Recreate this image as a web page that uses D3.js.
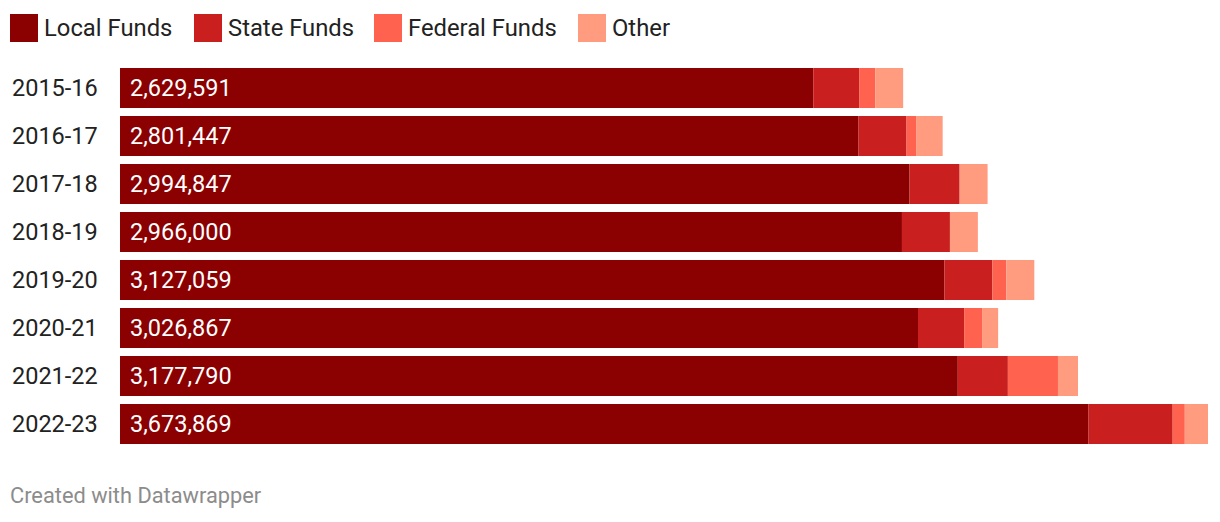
<!DOCTYPE html>
<html><head><meta charset="utf-8">
<script src="https://cdn.jsdelivr.net/npm/d3@7"></script>
<style>
html,body{margin:0;padding:0;background:#fff;}
svg{display:block;font-family:Roboto,sans-serif;}
</style></head>
<body>
<svg id="chart" width="1220" height="522"></svg>
<script>
const years = ["2015-16","2016-17","2017-18","2018-19","2019-20","2020-21","2021-22","2022-23"];
const localFunds = [2629591,2801447,2994847,2966000,3127059,3026867,3177790,3673869];
const stateFunds = [174000,182000,190000,182000,182000,175000,190000,319000];
const federalFunds = [61000,38000,0,0,53000,68000,190000,46000];
const otherFunds = [106000,99000,106000,106000,106000,61000,76000,88000];
const seriesNames = ["Local Funds","State Funds","Federal Funds","Other"];
const seriesColors = ["#8b0000","#c91f1f","#ff634f","#ff9c80"];

const rows = years.map((y,i)=>({year:y, "Local Funds":localFunds[i], "State Funds":stateFunds[i], "Federal Funds":federalFunds[i], "Other":otherFunds[i]}));
const stacked = d3.stack().keys(seriesNames)(rows);

const svg = d3.select("#chart");
const x = d3.scaleLinear()
  .domain([0, d3.max(rows, r => seriesNames.reduce((s,k)=>s+r[k],0))])
  .range([120, 1208]);
const yb = d3.scaleBand().domain(years).range([68, 444]).paddingInner(1/6).paddingOuter(0);

const g = svg.append("g");
stacked.forEach((s,si)=>{
  g.selectAll(null).data(s).enter().append("rect")
    .attr("x", d=>x(d[0]))
    .attr("y", (d,i)=>yb(years[i]))
    .attr("width", d=>Math.max(0, x(d[1])-x(d[0])))
    .attr("height", yb.bandwidth())
    .attr("fill", seriesColors[si]);
});

// y axis labels
const yAxis = d3.axisLeft(yb).tickSize(0).tickPadding(0);
const ax = svg.append("g").attr("transform","translate(12,0)").call(yAxis);
ax.select(".domain").remove();
ax.selectAll("text").attr("text-anchor","start").attr("x",0).attr("dy","0.35em")
  .style("font-size","23.5px").style("font-family","Roboto, sans-serif").attr("fill","#222");

// value labels
const fmt = d3.format(",");
svg.selectAll(null).data(rows).enter().append("text")
  .attr("x", x(0)+10)
  .attr("y", d=>yb(d.year)+yb.bandwidth()/2)
  .attr("dy","0.35em")
  .attr("fill","#fff")
  .style("font-size","23.5px")
  .text(d=>fmt(d["Local Funds"]));

// legend
const legendX = [10,194,374,578];
const lg = svg.selectAll(".lg").data(seriesNames).enter().append("g")
  .attr("transform",(d,i)=>`translate(${legendX[i]},14)`);
lg.append("rect").attr("width",28).attr("height",28).attr("fill",(d,i)=>seriesColors[i]);
lg.append("text").attr("x",34).attr("y",14).attr("dy","0.33em")
  .style("font-size","23.8px").attr("fill","#222").text(d=>d);

// footer
svg.append("text").attr("x",10).attr("y",503).attr("fill","#8c8c8c")
  .style("font-size","21.8px").text("Created with Datawrapper");
</script>
</body></html>
